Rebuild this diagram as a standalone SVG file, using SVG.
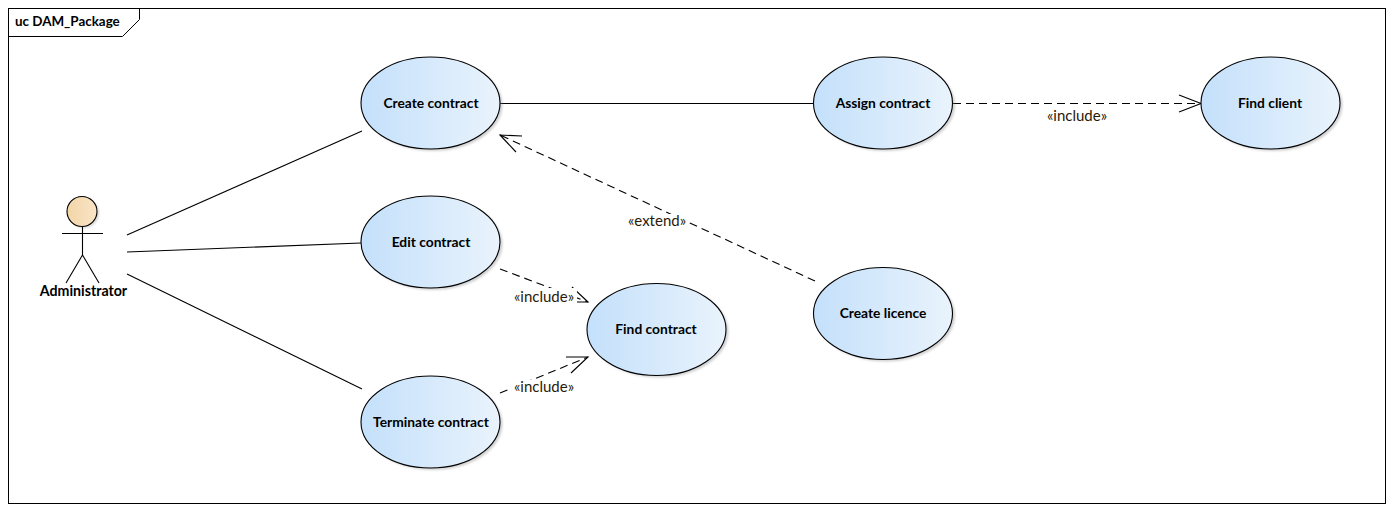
<svg xmlns="http://www.w3.org/2000/svg" width="1394" height="511" viewBox="0 0 1394 511">
<style>
text{font-family:"Lato","Liberation Sans",sans-serif;fill:#000}
.n{font-size:13.800px;font-weight:700;text-anchor:middle}
.l{font-size:15px;text-anchor:middle;fill:#2a1a08}
.u{fill:url(#uc);stroke:#000;stroke-width:1.100}
.s{fill:#8a8a8a;filter:url(#bl);opacity:.4}
.c{fill:none;stroke:#000;stroke-width:1.100}
.d{stroke-dasharray:8 5}
</style>
<defs>
<linearGradient id="uc"><stop offset="0" stop-color="#c4e0fb"/><stop offset="1" stop-color="#e9f3fc"/></linearGradient>
<linearGradient id="ac"><stop offset="0" stop-color="#f3d6a8"/><stop offset="1" stop-color="#f9e4c6"/></linearGradient>
<filter id="bl" x="-10%" y="-10%" width="120%" height="120%"><feGaussianBlur stdDeviation="1.200"/></filter>
</defs>
<rect width="1394" height="511" fill="#fff"/>
<g id="frame">
<rect x="8.500" y="8.500" width="1377" height="495" fill="none" stroke="#000" stroke-width="1"/>
<path d="M8.500 36.500H122.500L139.500 19.500V8.500" fill="none" stroke="#000" stroke-width="1"/>
<text x="15" y="26" style="font-size:13.400px;font-weight:700">uc DAM_Package</text>
</g>
<g id="connectors">
<path class="c" d="M127 235L362 131"/>
<path class="c" d="M127 252L361 243"/>
<path class="c" d="M127 274L362 389"/>
<path class="c" d="M500 103.500H814"/>
<path class="c d" d="M953 103.500H1200"/>
<path class="c" d="M1179 95L1201 103.500L1179 112"/>
<path class="c d" d="M815 281L500 135"/>
<path class="c" d="M522 136L500 135L516 152"/>
<path class="c d" d="M500 269L588 302"/>
<path class="c" d="M572 287L588 302H577"/>
<path class="c d" d="M500 393L588 357"/>
<path class="c" d="M566 357H588L571 373"/>
<rect x="626" y="214" width="62" height="15" fill="#fff"/>
<rect x="512" y="288" width="65" height="17" fill="#fff"/>
<rect x="512" y="380" width="64" height="15" fill="#fff"/>
<text class="l" x="1077" y="121">«include»</text>
<text class="l" x="657" y="226">«extend»</text>
<text class="l" x="544" y="302">«include»</text>
<text class="l" x="544" y="392">«include»</text>
</g>
<g id="administrator">
<ellipse cx="84" cy="213" rx="15" ry="15" fill="#999" opacity=".4" filter="url(#bl)"/>
<circle cx="82" cy="211.500" r="15" fill="url(#ac)" stroke="#000" stroke-width="1.100"/>
<path class="c" d="M62 233.500H103M82.500 227V255M82.500 255L66 283M82.500 255L99 283"/>
<text class="n" x="83.500" y="296" style="font-size:14.200px">Administrator</text>
</g>
<g id="create-contract">
<ellipse class="s" cx="433" cy="105" rx="69.500" ry="46"/>
<ellipse class="u" cx="430.500" cy="103" rx="69.500" ry="46"/>
<text class="n" x="431" y="108">Create contract</text>
</g>
<g id="edit-contract">
<ellipse class="s" cx="433" cy="244" rx="69.500" ry="46"/>
<ellipse class="u" cx="430.500" cy="242" rx="69.500" ry="46"/>
<text class="n" x="431" y="247">Edit contract</text>
</g>
<g id="terminate-contract">
<ellipse class="s" cx="433" cy="424" rx="69.500" ry="46"/>
<ellipse class="u" cx="430.500" cy="422" rx="69.500" ry="46"/>
<text class="n" x="431" y="427">Terminate contract</text>
</g>
<g id="find-contract">
<ellipse class="s" cx="659" cy="331.500" rx="69.500" ry="46"/>
<ellipse class="u" cx="656.500" cy="329.500" rx="69.500" ry="46"/>
<text class="n" x="656" y="334">Find contract</text>
</g>
<g id="assign-contract">
<ellipse class="s" cx="885.500" cy="105" rx="69.500" ry="46"/>
<ellipse class="u" cx="883" cy="103" rx="69.500" ry="46"/>
<text class="n" x="883" y="108">Assign contract</text>
</g>
<g id="create-licence">
<ellipse class="s" cx="885.500" cy="315.500" rx="69.500" ry="46"/>
<ellipse class="u" cx="883" cy="313.500" rx="69.500" ry="46"/>
<text class="n" x="883" y="318">Create licence</text>
</g>
<g id="find-client">
<ellipse class="s" cx="1273" cy="105" rx="69.500" ry="46"/>
<ellipse class="u" cx="1270.500" cy="103" rx="69.500" ry="46"/>
<text class="n" x="1270" y="108">Find client</text>
</g>
</svg>
